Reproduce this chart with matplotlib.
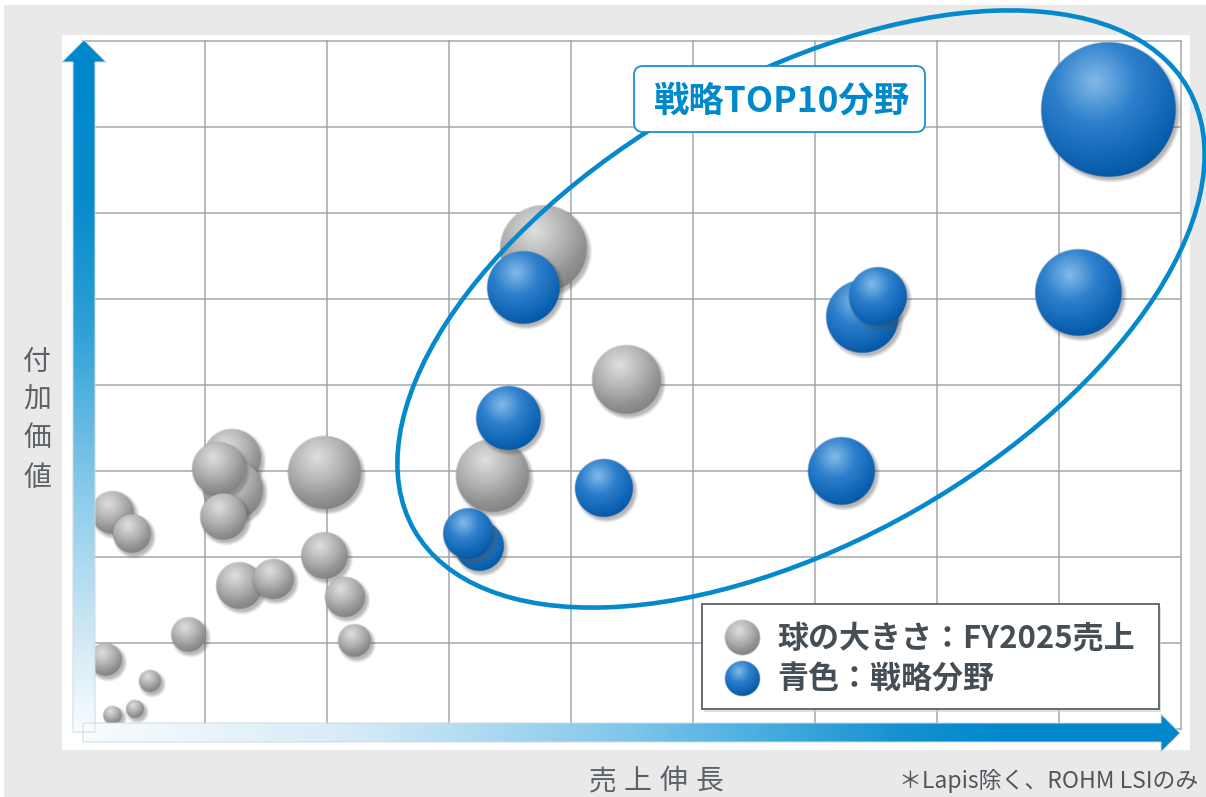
import numpy as np
import matplotlib
matplotlib.use("Agg")
import matplotlib.pyplot as plt
from matplotlib.patches import Polygon, Rectangle, Ellipse, FancyBboxPatch
from matplotlib.colors import LinearSegmentedColormap

# ---------------------------------------------------------------- data
# x: 売上伸長, y: 付加価値 (grid units), sales: FY2025売上 (bubble area)
gray_x = [3.77, 4.45, 3.36, 1.98, 1.22, 1.23, 1.11, 1.15, 0.24, 0.40,
          1.28, 1.56, 1.98, 2.15, 2.22, 0.86, 0.18, 0.55, 0.43, 0.24]
gray_y = [5.58, 4.06, 2.95, 2.98, 3.15, 2.78, 3.02, 2.47, 2.51, 2.27,
          1.67, 1.74, 2.01, 1.53, 1.03, 1.09, 0.81, 0.56, 0.23, 0.16]
gray_sales = [18.5, 11.6, 13.3, 13.3, 8.4, 9.0, 6.8, 5.3, 4.4, 3.6,
              5.3, 4.0, 5.3, 4.0, 2.6, 2.9, 2.6, 1.2, 0.8, 0.8]

blue_x = [8.40, 3.61, 3.48, 4.27, 3.25, 3.16, 6.39, 6.52, 6.22, 8.16]
blue_y = [7.20, 5.13, 3.62, 2.80, 2.12, 2.27, 4.79, 5.02, 2.99, 5.07]
blue_sales = [44.9, 13.0, 10.2, 8.4, 6.0, 6.3, 13.0, 8.4, 11.2, 18.5]

x_label = "売上伸長"
y_label = "付加価値"
highlight_label = "戦略TOP10分野"
legend_labels = ["球の大きさ：FY2025売上", "青色：戦略分野"]
footnote = "＊Lapis除く、ROHM LSIのみ"

# ---------------------------------------------------------------- styles
JP = ["Noto Sans CJK JP", "DejaVu Sans"]
BLUE = "#0088cc"
GRAY_STOPS = [(0.0, (0.87, 0.875, 0.875)), (0.45, (0.71, 0.71, 0.71)),
              (0.8, (0.57, 0.57, 0.57)), (1.0, (0.51, 0.51, 0.51))]
BLUE_STOPS = [(0.0, (0.51, 0.73, 0.91)), (0.42, (0.18, 0.50, 0.80)),
              (0.8, (0.06, 0.40, 0.71)), (1.0, (0.02, 0.34, 0.64))]
SIZE_SCALE = 10.0  # pixels of radius per sqrt(sales unit)

W, H = 1206, 797
fig = plt.figure(figsize=(W / 100, H / 100), dpi=100)
fig.patch.set_facecolor("white")


def pixel_axes(z):
    a = fig.add_axes([0, 0, 1, 1], zorder=z)
    a.set_xlim(0, W)
    a.set_ylim(H, 0)
    a.axis("off")
    return a


def sphere_rgba(r, stops, shadow=True, ss=3):
    pad = 8.0
    half = r + pad
    n = int(np.ceil(2 * half * ss))
    half = n / ss / 2
    c = (np.arange(n) + 0.5) / ss - half
    u, v = np.meshgrid(c, c)
    d = np.hypot(u, v)
    a_s = np.clip(r - d + 0.5, 0, 1)
    hx, hy = -0.2 * r, -0.42 * r
    t = np.clip(np.hypot(u - hx, v - hy) / (r + np.hypot(hx, hy)), 0, 1)
    cmap = LinearSegmentedColormap.from_list("sph", stops)
    rgb = cmap(t)[..., :3]
    if shadow:
        ds = np.hypot(u - 2.5, v - 3.0)
        a_sh = 0.4 * np.clip((r + 1.0 - ds) / 4.0 + 0.5, 0, 1)
    else:
        a_sh = np.zeros_like(d)
    sh_rgb = np.array([0.3, 0.3, 0.3])
    A = a_s + a_sh * (1 - a_s)
    with np.errstate(invalid="ignore", divide="ignore"):
        out_rgb = (rgb * a_s[..., None] + sh_rgb * (a_sh * (1 - a_s))[..., None]) / A[..., None]
    out_rgb = np.nan_to_num(out_rgb)
    img = np.dstack([out_rgb, A])
    return img, half


def place_sphere(axis, x, y, r, stops, ppx, ppy, shadow=True, z=3):
    img, half = sphere_rgba(r, stops, shadow)
    axis.imshow(img, extent=(x - half / ppx, x + half / ppx, y - half / ppy, y + half / ppy),
                origin="upper", aspect="auto", interpolation="antialiased",
                interpolation_stage="rgba", zorder=z, clip_on=False)


# ---------------------------------------------------------------- background
ax_bg = pixel_axes(0)
ax_bg.add_patch(Rectangle((4, 5), W - 4, H - 5, facecolor="#e9e9e9", edgecolor="none"))
ax_bg.add_patch(Rectangle((62, 35), 1190 - 62, 750 - 35, facecolor="white", edgecolor="none"))

# ---------------------------------------------------------------- data axes
X0, X1, Y0, Y1 = 83, 1181, 729, 41
ax = fig.add_axes([X0 / W, (H - Y0) / H, (X1 - X0) / W, (Y0 - Y1) / H], zorder=1)
ax.set_xlim(0, 9)
ax.set_ylim(0, 8)
ax.patch.set_alpha(0)
ax.set_xticks(np.arange(0, 10))
ax.set_yticks(np.arange(0, 9))
ax.tick_params(length=0, labelbottom=False, labelleft=False)
ax.grid(True, color="#a3a8ad", lw=1.1)
ax.set_axisbelow(True)
for sp in ax.spines.values():
    sp.set_visible(False)
for gl in ax.get_xgridlines() + ax.get_ygridlines():
    gl.set_clip_on(False)

p0 = ax.transData.transform((0, 0))
p1 = ax.transData.transform((1, 1))
ppx, ppy = p1[0] - p0[0], p1[1] - p0[1]

for x, y, s in zip(gray_x, gray_y, gray_sales):
    place_sphere(ax, x, y, SIZE_SCALE * np.sqrt(s), GRAY_STOPS, ppx, ppy)
for x, y, s in zip(blue_x, blue_y, blue_sales):
    place_sphere(ax, x, y, SIZE_SCALE * np.sqrt(s), BLUE_STOPS, ppx, ppy)
ax.set_xlim(0, 9)
ax.set_ylim(0, 8)

# ---------------------------------------------------------------- foreground
fg = pixel_axes(2)


def ramp(stops, s):
    cm = LinearSegmentedColormap.from_list("ramp", stops)
    return cm(s)


arrow_stops_v = [(0.0, (0.97, 0.99, 1.0)), (0.14, (0.82, 0.91, 0.96)),
                 (0.35, (0.55, 0.80, 0.92)), (0.6, (0.18, 0.63, 0.84)),
                 (0.8, (0.02, 0.54, 0.80)), (1.0, (0.0, 0.533, 0.80))]
arrow_stops_h = [(0.0, (0.97, 0.99, 1.0)), (0.25, (0.84, 0.92, 0.97)),
                 (0.5, (0.51, 0.78, 0.92)), (0.62, (0.30, 0.69, 0.88)),
                 (0.76, (0.08, 0.57, 0.82)), (0.86, (0.0, 0.533, 0.80)),
                 (1.0, (0.0, 0.533, 0.80))]

# vertical axis arrow
v_verts = [(73, 732), (73, 62), (62, 62), (84, 40), (106, 62), (95, 62), (95, 732)]
ys = np.arange(40, 733) + 0.5
sv = np.clip((732 - ys) / (732 - 62), 0, 1)
vimg = ramp(arrow_stops_v, sv)[:, None, :]
vpoly = Polygon(v_verts, closed=True, facecolor="none", edgecolor="#d3d8dc", lw=0.7, zorder=6)
fg.add_patch(vpoly)
im = fg.imshow(vimg, extent=(62, 106, 733, 40), origin="upper", aspect="auto",
               interpolation="bilinear", zorder=5)
im.set_clip_path(vpoly)

# horizontal axis arrow
h_verts = [(83, 723), (1161, 723), (1161, 714), (1180, 733), (1161, 752), (1161, 742), (83, 742)]
xs = np.arange(83, 1181) + 0.5
sh = np.clip((xs - 83) / (1161 - 83), 0, 1)
himg = ramp(arrow_stops_h, sh)[None, :, :]
hpoly = Polygon(h_verts, closed=True, facecolor="none", edgecolor="#d3d8dc", lw=0.7, zorder=6)
fg.add_patch(hpoly)
im = fg.imshow(himg, extent=(83, 1181, 752, 714), origin="upper", aspect="auto",
               interpolation="bilinear", zorder=5)
im.set_clip_path(hpoly)

# strategic area outline
fg.add_patch(Ellipse((801, 309), 891, 463, angle=-29.7, fill=False,
                     edgecolor="#0589cd", lw=3.3, zorder=7, clip_on=False))

# highlight label
fg.add_patch(FancyBboxPatch((634, 66), 291, 66, boxstyle="round,pad=0,rounding_size=9",
                            facecolor="white", edgecolor="#1a90d0", lw=1.3, zorder=8))
fg.text(782, 101, highlight_label, fontsize=25.5, fontweight="bold", color=BLUE,
        family=JP, ha="center", va="center", zorder=9)

# legend
fg.add_patch(Rectangle((704, 607), 457, 105, facecolor="#c9cccf", edgecolor="none",
                       alpha=0.6, zorder=8))
fg.add_patch(Rectangle((702, 604), 457, 105, facecolor="white", edgecolor="#59616a",
                       lw=1.3, zorder=8))
place_sphere(fg, 742, 638, 17.5, GRAY_STOPS, 1, -1, shadow=False, z=9)
place_sphere(fg, 742, 679, 17.5, BLUE_STOPS, 1, -1, shadow=False, z=9)
for lbl, yy in zip(legend_labels, [639, 680]):
    fg.text(777, yy, lbl, fontsize=22.3, fontweight="bold", color="#454d55",
            family=JP, ha="left", va="center", zorder=9)

# axis titles
for ch, yy in zip(y_label, [362, 400, 438, 478]):
    fg.text(37, yy, ch, fontsize=20, color="#5b6167", family=JP,
            ha="center", va="center", zorder=9)
for ch, xx in zip(x_label, [603, 637, 673, 709]):
    fg.text(xx, 781, ch, fontsize=20, color="#5b6167", family=JP,
            ha="center", va="center", zorder=9)

fg.text(1198, 781, footnote, fontsize=16.5, color="#50565c", family=JP,
        ha="right", va="center", zorder=9)

fg.set_xlim(0, W)
fg.set_ylim(H, 0)

fig.savefig("out.png", dpi=100)
